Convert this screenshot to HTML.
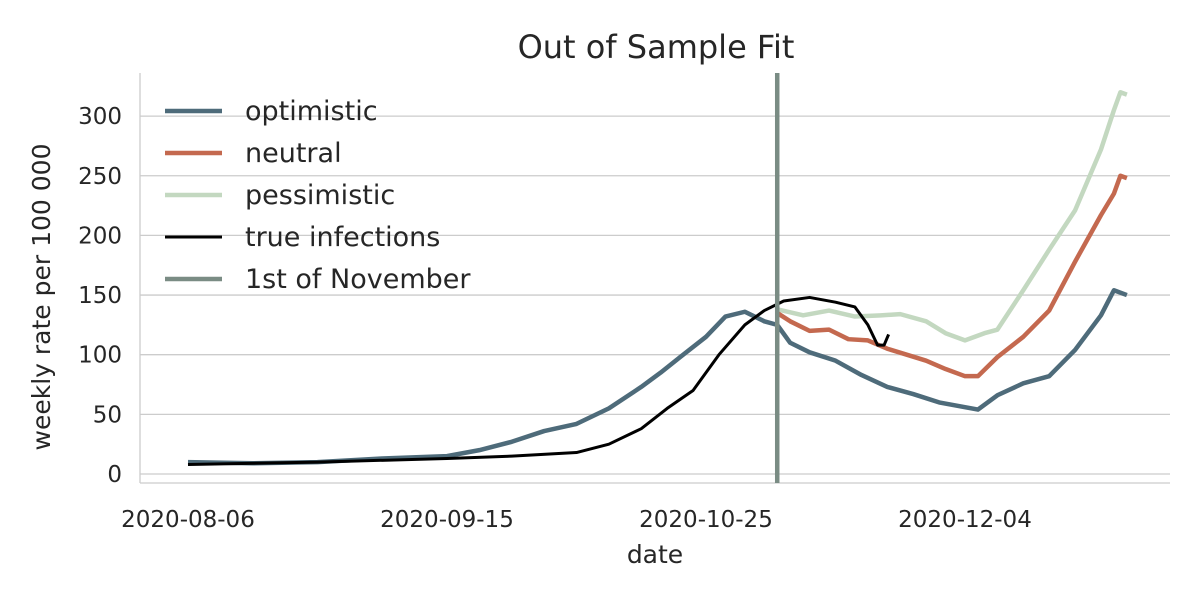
<!DOCTYPE html>
<html><head><meta charset="utf-8"><style>
body{margin:0;background:#fff;font-family:"Liberation Sans","DejaVu Sans",sans-serif}
svg text{font-family:"DejaVu Sans","Liberation Sans",sans-serif;fill:#262626}
</style></head><body>
<svg id="c" width="1200" height="600"></svg>
<script>
const tickDates=["2020-08-06","2020-09-15","2020-10-25","2020-12-04"];
const tickDays=[0,40,80,120];
const yTicks=[0,50,100,150,200,250,300];
const optDays=[0,10,20,30,40,45,50,55,60,65,70,73,76,80,83,86,89,91,93,96,100,104,108,112,116,120,122,125,129,133,137,141,143,145];
const optVals=[10,9,10,13,15,20,27,36,42,55,73,85,98,115,132,136,128,125,110,102,95,83,73,67,60,56,54,66,76,82,104,133,154,150];
const trueDays=[0,20,40,50,60,65,70,74,78,82,86,89,92,96,100,103,105,106.5,107.5,108.2];
const trueVals=[8,10,13,15,18,25,38,55,70,100,125,137,145,148,144,140,125,108,108,117];
const neuDays=[91,93,96,99,102,105,108,111,114,117,120,122,125,129,133,137,141,143,144,145];
const neuVals=[135,128,120,121,113,112,105,100,95,88,82,82,98,115,137,178,217,235,250,248];
const pesDays=[91,95,99,103,107,110,114,117,120,123,125,129,133,137,141,143,144,145];
const pesVals=[138,133,137,132,133,134,128,118,112,118,121,154,188,221,272,305,320,318];
const novDay=91;
const NS="http://www.w3.org/2000/svg",svg=document.getElementById('c');
const X=d=>188+d*6.475, Y=v=>474-v*1.193;
function el(t,a,txt){const e=document.createElementNS(NS,t);for(const k in a)e.setAttribute(k,a[k]);if(txt!==undefined)e.textContent=txt;svg.appendChild(e);return e;}
yTicks.forEach(v=>{
const g=el('line',{x1:140,x2:1170,y1:Y(v),y2:Y(v),stroke:'#cccccc','stroke-width':1.3});


const t=el('text',{x:122,y:Y(v)+8,'text-anchor':'end','font-size':23},v);


});
el('line',{x1:140,x2:140,y1:73,y2:483,stroke:'#cccccc','stroke-width':1.3});
el('line',{x1:140,x2:1170,y1:483,y2:483,stroke:'#cccccc','stroke-width':1.3});
tickDays.forEach((d,i)=>{
const t=el('text',{x:X(d),y:527,'text-anchor':'middle','font-size':23},tickDates[i]);


});
function line(ds,vs,col,w,name){
const p=el('polyline',{points:ds.map((d,i)=>X(d)+','+Y(vs[i])).join(' '),fill:'none',stroke:col,'stroke-width':w,'stroke-linejoin':'round'});


}
line(pesDays,pesVals,'#c3d8c0',4.5,'pessimistic-line');
line(neuDays,neuVals,'#c4694f',4.5,'neutral-line');
line(optDays,optVals,'#4e6b7a',4.5,'optimistic-line');
line(trueDays,trueVals,'#000',3,'true-infections-line');
const vl=el('line',{x1:X(novDay),x2:X(novDay),y1:73,y2:483,stroke:'#7a8c84','stroke-width':4.5});


const leg=[['optimistic','#4e6b7a',4.5],['neutral','#c4694f',4.5],['pessimistic','#c3d8c0',4.5],['true infections','#000',3],['1st of November','#7a8c84',4.5]];
leg.forEach((l,i)=>{const y=111+i*42;
el('line',{x1:165,x2:222,y1:y,y2:y,stroke:l[1],'stroke-width':l[2]});
const t=el('text',{x:245,y:y+9,'font-size':27},l[0]);


});
const ti=el('text',{x:656,y:58,'text-anchor':'middle','font-size':32},'Out of Sample Fit');


const xt=el('text',{x:655,y:563,'text-anchor':'middle','font-size':25},'date');


const yt=el('text',{x:0,y:0,'text-anchor':'middle','font-size':25,transform:'translate(50,297) rotate(-90)'},'weekly rate per 100 000');


</script>
</body></html>
